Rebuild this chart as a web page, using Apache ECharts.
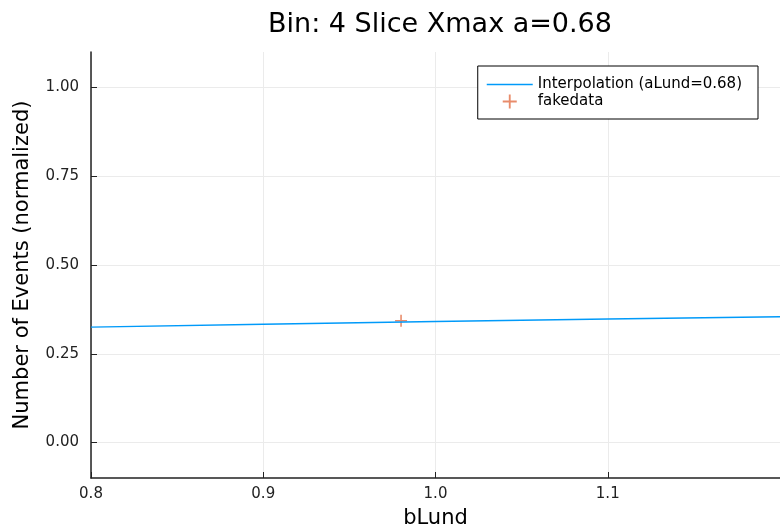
<!DOCTYPE html>
<html>
<head>
<meta charset="utf-8">
<script src="https://cdn.jsdelivr.net/npm/echarts@6/dist/echarts.min.js"></script>
<style>
  html, body { margin: 0; padding: 0; background: #fff; }
  #chart { width: 780px; height: 529px; }
</style>
</head>
<body>
<div id="chart"></div>
<script>
// interpolation curve (aLund = 0.68)
var bLund = [0.8, 0.9, 1.0, 1.1, 1.2]
var interp = [0.325, 0.333, 0.341, 0.348, 0.354]
// fake data point
var fakeX = [0.98]
var fakeY = [0.343]
var yTicks = [0, 0.25, 0.5, 0.75, 1.0]

;(function () {
  var myChart = echarts.init(document.getElementById('chart'))
  var font = 'DejaVu Sans'
  // thin "+" marker
  var plus = 'path://M5.2,0 L6.8,0 L6.8,5.2 L12,5.2 L12,6.8 L6.8,6.8 L6.8,12 L5.2,12 L5.2,6.8 L0,6.8 L0,5.2 L5.2,5.2 Z'

  var option = {
    animation: false,
    textStyle: { fontFamily: font },
    title: {
      text: 'Bin: 4 Slice Xmax a=0.68',
      left: 435,
      textAlign: 'center',
      top: 6,
      textStyle: { fontFamily: font, fontSize: 27, fontWeight: 'normal', color: '#000' }
    },
    legend: {
      orient: 'vertical',
      right: 22,
      top: 66,
      padding: [11, 16, 10, 9],
      itemGap: 2,
      itemWidth: 46,
      itemHeight: 14,
      borderColor: '#000',
      borderWidth: 1,
      borderRadius: 0,
      backgroundColor: '#fff',
      textStyle: { fontFamily: font, fontSize: 15, color: '#000' },
      data: [
        { name: 'Interpolation (aLund=0.68)', icon: 'path://M0,0 L46,0 L46,1.5 L0,1.5 Z' },
        { name: 'fakedata', icon: plus }
      ]
    },
    grid: {
      left: 91,
      right: 0,
      top: 52,
      bottom: 51,
      outerBoundsMode: 'none'
    },
    xAxis: {
      type: 'value',
      min: 0.8,
      max: 1.2,
      interval: 0.1,
      name: 'bLund',
      nameLocation: 'middle',
      nameGap: 30,
      nameTextStyle: { fontFamily: font, fontSize: 21, color: '#000' },
      axisLine: { show: true, onZero: false, lineStyle: { color: '#222', width: 1.5 } },
      axisTick: { show: true, inside: true, length: 6, lineStyle: { color: '#222' } },
      axisLabel: {
        color: '#222',
        fontSize: 15,
        margin: 9,
        showMaxLabel: false,
        formatter: function (v) { return v.toFixed(1) }
      },
      splitLine: { show: true, lineStyle: { color: '#ebebeb' } }
    },
    yAxis: {
      type: 'value',
      min: -0.1,
      max: 1.1,
      name: 'Number of Events (normalized)',
      nameLocation: 'middle',
      nameGap: 58,
      nameTextStyle: { fontFamily: font, fontSize: 21, color: '#000' },
      axisLine: { show: true, onZero: false, lineStyle: { color: '#222', width: 1.5 } },
      axisTick: { show: true, inside: true, length: 6, customValues: yTicks, lineStyle: { color: '#222' } },
      axisLabel: {
        color: '#222',
        fontSize: 15,
        margin: 12,
        customValues: yTicks,
        formatter: function (v) { return v.toFixed(2) }
      },
      splitLine: { show: true, lineStyle: { color: '#ebebeb' } }
    },
    series: [
      {
        name: 'Interpolation (aLund=0.68)',
        type: 'line',
        data: bLund.map(function (x, i) { return [x, interp[i]] }),
        showSymbol: false,
        lineStyle: { color: '#009af9', width: 1.5 },
        itemStyle: { color: '#009af9' }
      },
      {
        name: 'fakedata',
        type: 'scatter',
        data: fakeX.map(function (x, i) { return [x, fakeY[i]] }),
        symbol: plus,
        symbolSize: 12,
        itemStyle: { color: '#e26f46' }
      }
    ]
  }

  myChart.setOption(option)
  window.addEventListener('resize', function () {
    myChart.resize()
  })
})()
</script>
</body>
</html>
